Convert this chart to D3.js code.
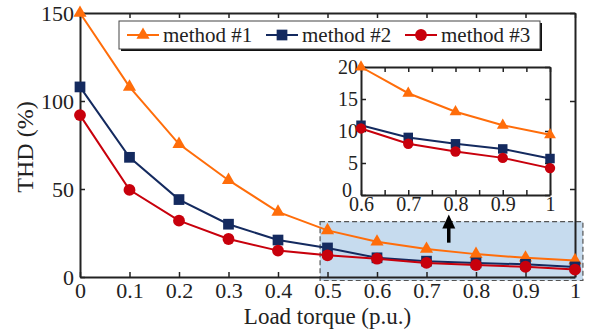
<!DOCTYPE html>
<html>
<head>
<meta charset="utf-8">
<script src="https://cdn.jsdelivr.net/npm/d3@7"></script>
<style>
  body { margin: 0; background: #fff; }
  #chart { width: 589px; height: 333px; }
</style>
</head>
<body>
<div id="chart"></div>
<script>
// data
const loads = [0, 0.1, 0.2, 0.3, 0.4, 0.5, 0.6, 0.7, 0.8, 0.9, 1];
const method1 = [150, 108, 75.5, 55, 37, 26.5, 20, 15.9, 13, 10.9, 9.4];
const method2 = [108, 68, 44, 30, 21, 16.5, 10.9, 9.0, 8.0, 7.2, 5.7];
const method3 = [92, 49.5, 32, 21.6, 15, 12.3, 10.4, 8.0, 6.8, 5.8, 4.2];
const seriesNames = ['method #1', 'method #2', 'method #3'];
const xTicks = [0, 0.1, 0.2, 0.3, 0.4, 0.5, 0.6, 0.7, 0.8, 0.9, 1];
const yTicks = [0, 50, 100, 150];
const insetXTicks = [0.6, 0.7, 0.8, 0.9, 1];
const insetYTicks = [0, 5, 10, 15, 20];

const colors = ['#ff6d0a', '#142a5f', '#c8000c'];
const symbols = [d3.symbolTriangle, d3.symbolSquare, d3.symbolCircle];
const FONT = '"Liberation Serif", "Times New Roman", "DejaVu Serif", serif';

const series = [method1, method2, method3].map((vals, i) => ({
    name: seriesNames[i],
    color: colors[i],
    symbol: symbols[i],
    points: vals.map((v, j) => ({ x: loads[j], y: v }))
}));

const width = 589, height = 333;
const margin = { top: 13, right: 14, bottom: 56, left: 80 };

const svg = d3.select('#chart').append('svg')
    .attr('width', width)
    .attr('height', height)
    .attr('font-family', FONT);

const x = d3.scaleLinear().domain([0, 1]).range([margin.left, width - margin.right]);
const y = d3.scaleLinear().domain([0, 150]).range([height - margin.bottom, margin.top]);

// shaded zoom region
svg.append('rect')
    .attr('x', x(0.485))
    .attr('y', y(31.5))
    .attr('width', x(1.016) - x(0.485))
    .attr('height', y(-2) - y(31.5))
    .attr('fill', '#c6dbee')
    .attr('stroke', '#555')
    .attr('stroke-width', 1.2)
    .attr('stroke-dasharray', '5,3');

// frame + inward ticks
const axisStyle = g => g
    .attr('font-family', FONT)
    .call(g => g.selectAll('.domain').attr('stroke', '#222').attr('stroke-width', 2))
    .call(g => g.selectAll('.tick line').attr('stroke', '#222').attr('stroke-width', 1.5))
    .call(g => g.selectAll('text').attr('font-family', FONT).attr('fill', '#222'));

svg.append('g')
    .attr('transform', `translate(0,${y(0)})`)
    .call(d3.axisBottom(x).tickValues(xTicks).tickSizeInner(-5).tickSizeOuter(0).tickPadding(5)
        .tickFormat(d => d === 0 || d === 1 ? d3.format('d')(d) : d3.format('.1f')(d)))
    .call(axisStyle)
    .call(g => g.selectAll('text').attr('font-size', 22));

svg.append('g')
    .attr('transform', `translate(0,${y(150)})`)
    .call(d3.axisTop(x).tickValues(xTicks).tickSizeInner(-5).tickSizeOuter(0).tickFormat(''))
    .call(axisStyle);

svg.append('g')
    .attr('transform', `translate(${x(0)},0)`)
    .call(d3.axisLeft(y).tickValues(yTicks).tickSizeInner(-5).tickSizeOuter(0).tickPadding(6))
    .call(axisStyle)
    .call(g => g.selectAll('text').attr('font-size', 22));

svg.append('g')
    .attr('transform', `translate(${x(1)},0)`)
    .call(d3.axisRight(y).tickValues(yTicks).tickSizeInner(-5).tickSizeOuter(0).tickFormat(''))
    .call(axisStyle);

// axis titles
svg.append('text')
    .attr('x', (x(0) + x(1)) / 2)
    .attr('y', 324)
    .attr('text-anchor', 'middle')
    .attr('font-family', FONT)
    .attr('font-size', 23)
    .attr('fill', '#222')
    .text('Load torque (p.u.)');

svg.append('text')
    .attr('transform', `translate(33,${(y(0) + y(150)) / 2 + 2}) rotate(-90)`)
    .attr('text-anchor', 'middle')
    .attr('font-family', FONT)
    .attr('font-size', 24)
    .attr('fill', '#222')
    .text('THD (%)');

// main lines
const line = d3.line().x(d => x(d.x)).y(d => y(d.y));
const mainSizes = [75, 115, 110];

series.forEach((s, i) => {
    svg.append('path')
        .datum(s.points)
        .attr('fill', 'none')
        .attr('stroke', s.color)
        .attr('stroke-width', 2)
        .attr('d', line);
    svg.append('g').selectAll('path')
        .data(s.points)
        .join('path')
        .attr('transform', d => `translate(${x(d.x)},${y(d.y)})`)
        .attr('d', d3.symbol().type(s.symbol).size(mainSizes[i]))
        .attr('fill', s.color);
});

// arrow pointing up to the inset
const ax = x(0.745);
svg.append('line')
    .attr('x1', ax).attr('x2', ax)
    .attr('y1', y(19.5)).attr('y2', y(29))
    .attr('stroke', '#000').attr('stroke-width', 3.5);
svg.append('path')
    .attr('d', `M${ax},${y(35.5)} L${ax - 6.5},${y(27.5)} L${ax + 6.5},${y(27.5)} Z`)
    .attr('fill', '#000');

// inset
const inset = { left: 361, right: 550, top: 67, bottom: 195 };
const ix = d3.scaleLinear().domain([0.6, 1]).range([inset.left, inset.right]);
const iy = d3.scaleLinear().domain([0, 20]).range([inset.bottom, inset.top]);
const insetMinor = d3.range(0.6, 1.001, 0.05);

const gi = svg.append('g');
gi.append('rect')
    .attr('x', inset.left).attr('y', inset.top)
    .attr('width', inset.right - inset.left).attr('height', inset.bottom - inset.top)
    .attr('fill', '#fff');

gi.append('g')
    .attr('transform', `translate(0,${iy(0)})`)
    .call(d3.axisBottom(ix).tickValues(insetMinor).tickSizeInner(-5).tickSizeOuter(0).tickPadding(2)
        .tickFormat(d => {
            const hit = insetXTicks.find(t => Math.abs(t - d) < 1e-6);
            return hit === undefined ? '' : (hit === 1 ? '1' : d3.format('.1f')(hit));
        }))
    .call(axisStyle)
    .call(g => g.selectAll('text').attr('font-size', 20));

gi.append('g')
    .attr('transform', `translate(0,${iy(20)})`)
    .call(d3.axisTop(ix).tickValues(insetMinor).tickSizeInner(-5).tickSizeOuter(0).tickFormat(''))
    .call(axisStyle);

gi.append('g')
    .attr('transform', `translate(${ix(0.6)},0)`)
    .call(d3.axisLeft(iy).tickValues(insetYTicks).tickSizeInner(-5).tickSizeOuter(0).tickPadding(3))
    .call(axisStyle)
    .call(g => g.selectAll('text').attr('font-size', 20))
    .call(g => g.selectAll('.tick').filter(d => d === 0).select('text').attr('dy', '0.05em').attr('x', -9));

gi.append('g')
    .attr('transform', `translate(${ix(1)},0)`)
    .call(d3.axisRight(iy).tickValues(insetYTicks).tickSizeInner(-5).tickSizeOuter(0).tickFormat(''))
    .call(axisStyle);

const iline = d3.line().x(d => ix(d.x)).y(d => iy(d.y));
const insetSizes = [60, 90, 85];

series.forEach((s, i) => {
    const pts = s.points.filter(d => d.x >= 0.6 - 1e-9);
    gi.append('path')
        .datum(pts)
        .attr('fill', 'none')
        .attr('stroke', s.color)
        .attr('stroke-width', 2)
        .attr('d', iline);
    gi.append('g').selectAll('path')
        .data(pts)
        .join('path')
        .attr('transform', d => `translate(${ix(d.x)},${iy(d.y)})`)
        .attr('d', d3.symbol().type(s.symbol).size(insetSizes[i]))
        .attr('fill', s.color);
});

// legend
const legend = { x: 119, y: 21, w: 421, h: 28 };
const lg = svg.append('g');
lg.append('rect')
    .attr('x', legend.x + 2).attr('y', legend.y + 2)
    .attr('width', legend.w).attr('height', legend.h)
    .attr('fill', '#111');
lg.append('rect')
    .attr('x', legend.x).attr('y', legend.y)
    .attr('width', legend.w).attr('height', legend.h)
    .attr('fill', '#fff')
    .attr('stroke', '#444')
    .attr('stroke-width', 1);

series.forEach((s, i) => {
    const ex = legend.x + 8 + i * 139;
    const ey = legend.y + legend.h / 2;
    lg.append('line')
        .attr('x1', ex).attr('x2', ex + 32)
        .attr('y1', ey).attr('y2', ey)
        .attr('stroke', s.color).attr('stroke-width', 2);
    lg.append('path')
        .attr('transform', `translate(${ex + 16},${ey})`)
        .attr('d', d3.symbol().type(s.symbol).size(mainSizes[i]))
        .attr('fill', s.color);
    lg.append('text')
        .attr('x', ex + 36)
        .attr('y', ey + 7)
        .attr('font-family', FONT)
        .attr('font-size', 21)
        .attr('fill', '#222')
        .text(s.name);
});
</script>
</body>
</html>
